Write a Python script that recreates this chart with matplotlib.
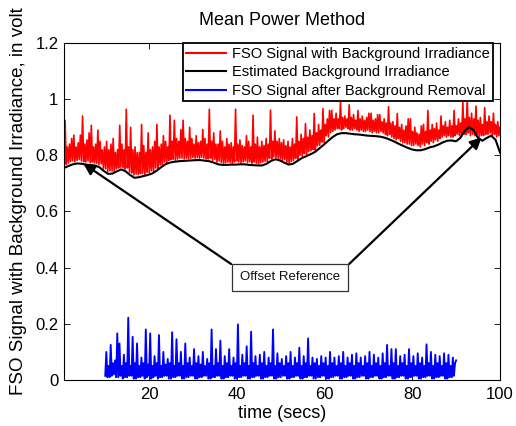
import numpy as np
import matplotlib
matplotlib.use("Agg")
import matplotlib.pyplot as plt
from matplotlib.ticker import FuncFormatter, MultipleLocator

plt.rcParams['font.family'] = ['Liberation Sans', 'DejaVu Sans']

# ---------------- data ----------------
red_signal = [
    .765, .925, .768, .83, .772, .84, .778, .86, .78, .872, .777, .83, .782, .845, .785, .872,
    .78, .94, .777, .84, .776, .855, .78, .88, .773, .907, .776, .83, .773, .84, .771, .89,
    .766, .85, .77, .82, .754, .83, .752, .85, .742, .82, .745, .84, .744, .86, .742, .81,
    .752, .82, .755, .907, .758, .84, .756, .82, .751, .964, .755, .83, .74, .90, .737, .82,
    .73, .83, .733, .81, .731, .81, .735, .91, .735, .835, .732, .81, .74, .88, .737, .82,
    .745, .83, .742, .85, .755, .91, .752, .83, .765, .84, .763, .87, .776, .85, .774, .83,
    .782, .943, .785, .85, .786, .925, .783, .86, .787, .85, .79, .892, .79, .925, .787, .86,
    .79, .85, .788, .90, .79, .86, .792, .84, .79, .87, .792, .845, .79, .85, .793, .892,
    .79, .86, .787, .84, .787, .964, .79, .85, .782, .88, .785, .84, .776, .84, .78, .887,
    .775, .85, .772, .83, .773, .86, .776, .84, .775, .845, .772, .83, .776, .964, .78, .84,
    .776, .855, .773, .835, .777, .83, .78, .87, .774, .85, .777, .83, .772, .943, .776, .84,
    .772, .865, .769, .83, .773, .85, .776, .835, .779, .86, .777, .84, .79, .961, .787, .85,
    .795, .887, .792, .85, .79, .86, .787, .845, .782, .855, .785, .835, .775, .85, .772, .83,
    .778, .86, .781, .84, .789, .937, .786, .85, .80, .875, .797, .86, .806, .913, .803, .865,
    .813, .89, .816, .87, .821, .949, .818, .88, .834, .91, .836, .89, .847, .966, .845, .91,
    .87, .93, .865, .96, .88, .96, .885, .93, .89, .95, .895, .93, .895, .99, .89, .935,
    .895, .94, .90, .93, .895, .98, .89, .935, .89, .945, .895, .925, .89, .96, .885, .93,
    .89, .94, .885, .925, .885, .935, .89, .95, .885, .95, .88, .925, .885, .93, .88, .945,
    .88, .945, .885, .92, .88, .93, .875, .915, .87, .973, .875, .915, .865, .92, .86, .905,
    .855, .949, .86, .90, .85, .91, .845, .89, .845, .905, .84, .93, .84, .93, .835, .885,
    .835, .90, .84, .88, .835, .875, .83, .905, .84, .91, .835, .885, .845, .96, .84, .89,
    .85, .91, .845, .895, .855, .915, .85, .89, .86, .94, .865, .905, .87, .92, .865, .90,
    .87, .925, .865, .905, .865, .96, .87, .905, .875, .93, .87, .915, .87, .99, .875, .93,
    .875, 1.0, .88, .935, .87, .95, .875, .93, .87, .975, .875, .925, .865, .935, .87, .91,
    .87, .97, .875, .92, .875, .94, .88, .92, .87, .95, .875, .91, .865, .92, .87, .90,
]

background = [
    .755, .762, .768, .771, .770, .767, .765, .764, .758, .745,
    .734, .735, .743, .750, .743, .730, .720, .722, .726, .730,
    .735, .745, .757, .768, .774, .777, .779, .780, .781, .782,
    .783, .783, .781, .779, .774, .768, .766, .766, .767, .767,
    .768, .768, .766, .765, .764, .764, .770, .780, .786, .782,
    .774, .767, .770, .780, .790, .797, .804, .812, .825, .838,
    .852, .865, .875, .879, .879, .877, .875, .874, .872, .870,
    .869, .868, .866, .862, .856, .849, .841, .834, .827, .821,
    .818, .818, .822, .828, .832, .838, .846, .852, .853, .850,
    .862, .888, .900, .890, .862, .852, .862, .870, .855, .810,
]

removed_signal = [
    .015, .10, .01, .05, .01, .125, .015, .06, .02, .07, .01, .166, .01, .13, .015, .05,
    .005, .09, .01, .06, .01, .222, .015, .05, .015, .154, .005, .06, .005, .13, .01, .05,
    .01, .08, .015, .06, .005, .18, .01, .055, .015, .166, .005, .05, .01, .085, .015, .06,
    .005, .16, .01, .05, .01, .10, .015, .055, .015, .075, .005, .06, .005, .17, .01, .05,
    .01, .145, .015, .06, .015, .10, .005, .05, .005, .13, .01, .06, .01, .08, .015, .05,
    .015, .11, .005, .06, .005, .085, .01, .055, .01, .10, .015, .05, .015, .075, .005, .06,
    .005, .18, .01, .05, .01, .11, .015, .06, .015, .14, .005, .05, .005, .085, .01, .06,
    .01, .11, .015, .05, .015, .08, .005, .06, .005, .198, .01, .05, .01, .09, .015, .06,
    .015, .12, .005, .05, .005, .172, .01, .06, .01, .085, .015, .05, .015, .09, .005, .06,
    .005, .10, .01, .05, .01, .08, .015, .06, .015, .18, .005, .05, .005, .095, .01, .06,
    .01, .075, .015, .05, .015, .085, .005, .06, .005, .10, .01, .05, .01, .08, .015, .06,
    .015, .115, .005, .05, .005, .085, .01, .06, .01, .148, .015, .05, .015, .08, .005, .06,
    .005, .075, .01, .05, .01, .085, .015, .06, .015, .08, .005, .05, .005, .10, .01, .06,
    .01, .08, .015, .05, .015, .085, .005, .06, .005, .10, .01, .05, .01, .08, .015, .06,
    .015, .09, .005, .05, .005, .095, .01, .06, .01, .08, .015, .05, .015, .085, .005, .06,
    .005, .10, .01, .05, .01, .09, .015, .06, .015, .08, .005, .05, .005, .095, .01, .06,
    .01, .125, .015, .05, .015, .11, .005, .06, .005, .11, .01, .05, .01, .085, .015, .06,
    .015, .09, .005, .05, .005, .11, .01, .06, .01, .085, .015, .05, .015, .095, .005, .06,
    .005, .08, .01, .05, .01, .127, .015, .06, .015, .10, .005, .05, .005, .09, .01, .06,
    .01, .085, .015, .05, .015, .095, .005, .06, .005, .09, .01, .05, .01, .08, .015, .06,
    .07,
]

t_start, t_end = 0.6, 100.0
blue_start, blue_end = 10.0, 90.0
t_red = np.linspace(t_start, t_end, len(red_signal))
t_bg = np.linspace(t_start, t_end, len(background))
t_blue = np.linspace(blue_start, blue_end, len(removed_signal))

labels = ["FSO Signal with Background Irradiance",
          "Estimated Background Irradiance",
          "FSO Signal after Background Removal"]

# annotation anchor points (data coords)
note_text = "Offset Reference"
note_center = (52.1, 0.365)
note_left_corner = (38.7, 0.413)
note_right_corner = (65.6, 0.413)
arrow_left_tip = (5.0, 0.771)
arrow_right_tip = (95.8, 0.864)

# ---------------- figure ----------------
fig = plt.figure(figsize=(5.16, 4.26), dpi=100)
ax = fig.add_axes([64 / 516, 46 / 426, 436 / 516, 337 / 426])

ax.plot(t_red, red_signal, color='#ff0000', lw=1.2, label=labels[0], zorder=2)
ax.plot(t_bg, background, color='black', lw=1.5, label=labels[1], zorder=3)
ax.plot(t_blue, removed_signal, color='#0000ff', lw=1.35, label=labels[2], zorder=2)

ax.set_xlim(t_start, t_end)
ax.set_ylim(0, 1.2)
ax.xaxis.set_major_locator(MultipleLocator(20))
ax.yaxis.set_major_locator(MultipleLocator(0.2))
fmt = FuncFormatter(lambda v, p: "%g" % round(v, 6))
ax.xaxis.set_major_formatter(fmt)
ax.yaxis.set_major_formatter(fmt)
ax.tick_params(direction='in', top=True, right=True, length=4, width=0.6,
               labelsize=12)
ax.tick_params(axis='y', pad=4)
ax.tick_params(axis='x', pad=5)
for s in ax.spines.values():
    s.set_linewidth(0.8)

ax.set_title("Mean Power Method", fontsize=13, pad=13)
ax.set_xlabel("time (secs)", fontsize=13, labelpad=2)
ax.set_ylabel("FSO Signal with Background Irradiance, in volt", fontsize=13.5)
ax.yaxis.set_label_coords(-0.085, 0.53)

for tip, corner in ((arrow_left_tip, note_left_corner), (arrow_right_tip, note_right_corner)):
    ax.annotate("", xy=tip, xytext=corner,
                arrowprops=dict(arrowstyle='-|>', color='black', lw=1.6,
                                mutation_scale=17, shrinkA=0, shrinkB=0),
                zorder=4)
ax.text(note_center[0], note_center[1], note_text, ha='center', va='center',
        fontsize=9.5, color='#111111', zorder=5,
        bbox=dict(boxstyle='square,pad=0.6', fc='white', ec='#333333', lw=0.9))

leg = ax.legend(loc='upper right', bbox_to_anchor=(0.984, 0.999), borderaxespad=0,
                fontsize=10.5, frameon=True, fancybox=False, framealpha=1,
                edgecolor='black', handlelength=2.7, handletextpad=0.4,
                borderpad=0.25, labelspacing=0.3)
leg.get_frame().set_linewidth(1.3)
for line in leg.get_lines():
    line.set_linewidth(1.5)

fig.savefig("out.png", dpi=100)
